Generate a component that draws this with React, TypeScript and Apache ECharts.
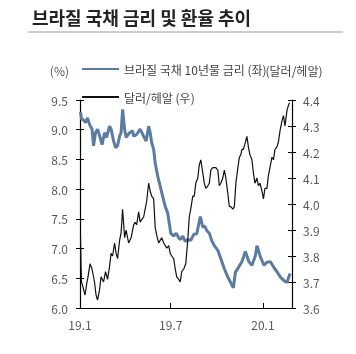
import React, { useEffect, useRef } from "react";
import * as echarts from "echarts";

const TITLE = "브라질 국채 금리 및 환율 추이";
const YIELD_NAME = "브라질 국채 10년물 금리 (좌)";
const FX_NAME = "달러/헤알 (우)";
const LEFT_UNIT = "(%)";
const RIGHT_UNIT = "(달러/헤알)";

const tickDates = ["2019-01-01", "2019-07-01", "2020-01-01"];
const tickLabels = ["19.1", "19.7", "20.1"];

const yieldDates = [
  "2019-01-02", "2019-01-04", "2019-01-07", "2019-01-12", "2019-01-16", "2019-01-20", "2019-01-25", "2019-01-28",
  "2019-02-01", "2019-02-05", "2019-02-10", "2019-02-14", "2019-02-19", "2019-02-23", "2019-03-01", "2019-03-04",
  "2019-03-09", "2019-03-13", "2019-03-17", "2019-03-21", "2019-03-24", "2019-03-27", "2019-03-31", "2019-04-03",
  "2019-04-10", "2019-04-16", "2019-04-18", "2019-04-24", "2019-05-01", "2019-05-08", "2019-05-13", "2019-05-18",
  "2019-05-21", "2019-05-24", "2019-05-28", "2019-05-31", "2019-06-05", "2019-06-10", "2019-06-15", "2019-06-20",
  "2019-06-25", "2019-06-29", "2019-07-01", "2019-07-07", "2019-07-12", "2019-07-17", "2019-07-20", "2019-07-25",
  "2019-07-30", "2019-08-04", "2019-08-10", "2019-08-16", "2019-08-22", "2019-08-29", "2019-09-03", "2019-09-07",
  "2019-09-11", "2019-09-16", "2019-09-21", "2019-09-26", "2019-10-03", "2019-10-09", "2019-10-16", "2019-10-23",
  "2019-10-29", "2019-11-03", "2019-11-07", "2019-11-13", "2019-11-20", "2019-11-27", "2019-12-04", "2019-12-10",
  "2019-12-17", "2019-12-20", "2019-12-27", "2020-01-03", "2020-01-09", "2020-01-16", "2020-01-23", "2020-01-29",
  "2020-02-05", "2020-02-12", "2020-02-18", "2020-02-24",
];
const yieldValues = [
  9.3, 9.18, 9.17, 9.12, 9.2, 9.09, 9.01, 8.73,
  8.95, 9.01, 8.87, 8.75, 8.95, 8.87, 9.06, 9.01,
  8.81, 8.7, 8.73, 8.89, 8.95, 9.34, 9.01, 8.87,
  8.95, 8.98, 8.89, 8.92, 9.01, 8.89, 8.81, 9.06,
  8.95, 8.78, 8.67, 8.44, 8.22, 8.05, 7.88, 7.71,
  7.6, 7.38, 7.26, 7.21, 7.26, 7.18, 7.15, 7.21,
  7.12, 7.15, 7.14, 7.24, 7.25, 7.54, 7.36, 7.38,
  7.3, 7.26, 7.13, 7.05, 6.97, 6.83, 6.66, 6.52,
  6.42, 6.34, 6.6, 6.68, 6.78, 6.95, 6.78, 6.72,
  6.88, 7.05, 6.86, 6.72, 6.77, 6.78, 6.68, 6.61,
  6.52, 6.46, 6.43, 6.58,
];

const fxDates = [
  "2019-01-02", "2019-01-03", "2019-01-04", "2019-01-07", "2019-01-11", "2019-01-15", "2019-01-17", "2019-01-21",
  "2019-01-25", "2019-01-30", "2019-02-02", "2019-02-05", "2019-02-09", "2019-02-12", "2019-02-17", "2019-02-21",
  "2019-02-25", "2019-03-01", "2019-03-04", "2019-03-07", "2019-03-11", "2019-03-14", "2019-03-17", "2019-03-21",
  "2019-03-24", "2019-03-27", "2019-03-31", "2019-04-03", "2019-04-08", "2019-04-13", "2019-04-18", "2019-04-21",
  "2019-04-24", "2019-04-28", "2019-05-01", "2019-05-04", "2019-05-08", "2019-05-11", "2019-05-14", "2019-05-18",
  "2019-05-21", "2019-05-24", "2019-05-28", "2019-05-31", "2019-06-03", "2019-06-07", "2019-06-10", "2019-06-13",
  "2019-06-17", "2019-06-20", "2019-06-23", "2019-06-27", "2019-06-30", "2019-07-03", "2019-07-07", "2019-07-10",
  "2019-07-13", "2019-07-17", "2019-07-20", "2019-07-23", "2019-07-27", "2019-07-31", "2019-08-04", "2019-08-07",
  "2019-08-10", "2019-08-14", "2019-08-17", "2019-08-20", "2019-08-24", "2019-08-27", "2019-08-30", "2019-09-03",
  "2019-09-06", "2019-09-09", "2019-09-13", "2019-09-16", "2019-09-19", "2019-09-23", "2019-09-26", "2019-09-29",
  "2019-10-03", "2019-10-06", "2019-10-09", "2019-10-13", "2019-10-16", "2019-10-19", "2019-10-23", "2019-10-26",
  "2019-10-29", "2019-11-02", "2019-11-05", "2019-11-08", "2019-11-12", "2019-11-15", "2019-11-18", "2019-11-20",
  "2019-11-23", "2019-11-26", "2019-11-30", "2019-12-03", "2019-12-06", "2019-12-10", "2019-12-13", "2019-12-16",
  "2019-12-20", "2019-12-23", "2019-12-26", "2019-12-30", "2020-01-02", "2020-01-05", "2020-01-09", "2020-01-12",
  "2020-01-15", "2020-01-19", "2020-01-22", "2020-01-25", "2020-01-29", "2020-02-01", "2020-02-04", "2020-02-08",
  "2020-02-11", "2020-02-14", "2020-02-18", "2020-02-21", "2020-02-23",
];
const fxValues = [
  3.88, 3.77, 3.7, 3.68, 3.65, 3.7, 3.72, 3.77,
  3.75, 3.7, 3.65, 3.63, 3.67, 3.72, 3.7, 3.74,
  3.71, 3.76, 3.81, 3.8, 3.85, 3.81, 3.79, 3.86,
  3.89, 3.98, 3.87, 3.9, 3.85, 3.87, 3.92, 3.93,
  3.92, 3.97, 3.93, 3.94, 3.95, 3.98, 4.01, 4.08,
  4.05, 4.03, 4.02, 3.91, 3.88, 3.85, 3.86, 3.87,
  3.85, 3.84, 3.83, 3.84, 3.81, 3.8, 3.79, 3.75,
  3.72, 3.71, 3.7, 3.74, 3.75, 3.77, 3.86, 3.95,
  3.98, 4.03, 4.03, 4.08, 4.1, 4.15, 4.17, 4.12,
  4.08, 4.06, 4.07, 4.08, 4.13, 4.14, 4.14, 4.14,
  4.13, 4.07, 4.08, 4.1, 4.13, 4.1, 4.04, 3.99,
  3.99, 3.98, 3.99, 4.08, 4.14, 4.18, 4.19, 4.21,
  4.21, 4.23, 4.26, 4.22, 4.19, 4.17, 4.12, 4.08,
  4.1, 4.07, 4.08, 4.05, 4.02, 4.06, 4.06, 4.11,
  4.14, 4.18, 4.17, 4.21, 4.22, 4.24, 4.28, 4.32,
  4.34, 4.3, 4.36, 4.38, 4.39,
];

const FONT = "'Noto Sans CJK KR', 'Noto Sans', sans-serif";
const LABEL_COLOR = "#595959";

function toTs(s: string): number {
  const [y, m, d] = s.split("-").map(Number);
  return Date.UTC(y, m - 1, d);
}

export default function App() {
  const ref = useRef<HTMLDivElement>(null);
  useEffect(() => {
    if (!ref.current) return;
    const chart = echarts.init(ref.current, null, { renderer: "svg" });
    const tickTs = tickDates.map(toTs);
    const fmtX = (v: number) => {
      const i = tickTs.indexOf(v);
      return i >= 0 ? tickLabels[i] : "";
    };
    const baseY = {
      type: "value" as const,
      splitLine: { show: false },
      axisLine: { show: true, lineStyle: { color: "#000", width: 1.2 } },
    };
    chart.setOption({
      animation: false,
      textStyle: { fontFamily: FONT },
      title: {
        text: TITLE,
        left: 27,
        top: 3,
        textStyle: { fontFamily: FONT, fontSize: 18, fontWeight: "bold", color: "#222" },
      },
      graphic: [
        {
          type: "line",
          shape: { x1: 28, y1: 32, x2: 343, y2: 32 },
          style: { stroke: "#9a9a9a", lineWidth: 1 },
        },
      ],
      legend: {
        orient: "vertical",
        left: 81,
        top: 63,
        itemWidth: 37,
        itemHeight: 14,
        itemGap: 16,
        padding: 0,
        itemStyle: { opacity: 0 },
        textStyle: { fontFamily: FONT, fontSize: 12, color: "#444" },
        data: [YIELD_NAME, FX_NAME],
      },
      grid: { left: 80, right: 64, top: 100, bottom: 46 },
      xAxis: {
        type: "value",
        min: toTs("2019-01-01"),
        max: toTs("2020-02-28"),
        splitLine: { show: false },
        axisLine: { show: true, lineStyle: { color: "#000", width: 1.2 } },
        axisTick: { show: true, inside: true, length: 5, lineStyle: { color: "#000" }, customValues: tickTs },
        axisLabel: {
          customValues: tickTs,
          formatter: fmtX,
          color: LABEL_COLOR,
          fontSize: 12,
          fontFamily: FONT,
          margin: 10,
          showMinLabel: true,
          hideOverlap: false,
        },
      },
      yAxis: [
        {
          ...baseY,
          min: 6,
          max: 9.5,
          interval: 0.5,
          position: "left",
          name: LEFT_UNIT,
          nameLocation: "end",
          nameGap: 30,
          nameTextStyle: { align: "right", verticalAlign: "middle", padding: [0, 11, 0, 0], color: LABEL_COLOR, fontSize: 12, fontFamily: FONT },
          axisTick: { show: true, length: 4, lineStyle: { color: "#000" } },
          axisLabel: { color: LABEL_COLOR, fontSize: 12, fontFamily: FONT, margin: 12, formatter: (v: number) => v.toFixed(1) },
        },
        {
          ...baseY,
          min: 3.6,
          max: 4.4,
          interval: 0.1,
          position: "right",
          name: RIGHT_UNIT,
          nameLocation: "end",
          nameGap: 30,
          nameTextStyle: { align: "center", verticalAlign: "middle", padding: [0, 0, 0, 4], color: "#444", fontSize: 12, fontFamily: FONT },
          axisTick: { show: true, length: 4, lineStyle: { color: "#000" } },
          axisLabel: { color: LABEL_COLOR, fontSize: 12, fontFamily: FONT, margin: 11, formatter: (v: number) => v.toFixed(1) },
        },
        {
          ...baseY,
          min: 6,
          max: 9.5,
          interval: 0.5,
          position: "left",
          axisLine: { show: false },
          axisTick: { show: true, inside: true, length: 4, lineStyle: { color: "#000" } },
          axisLabel: { show: false },
        },
        {
          ...baseY,
          min: 3.6,
          max: 4.4,
          interval: 0.1,
          position: "right",
          axisLine: { show: false },
          axisTick: { show: true, inside: true, length: 4, lineStyle: { color: "#000" } },
          axisLabel: { show: false },
        },
      ],
      series: [
        {
          name: YIELD_NAME,
          type: "line",
          yAxisIndex: 0,
          symbol: "none",
          color: "#5b7ba3",
          lineStyle: { color: "#5b7ba3", width: 3 },
          data: yieldDates.map((d, i) => [toTs(d), yieldValues[i]]),
        },
        {
          name: FX_NAME,
          type: "line",
          yAxisIndex: 1,
          symbol: "none",
          color: "#111",
          lineStyle: { color: "#111", width: 1.2 },
          data: fxDates.map((d, i) => [toTs(d), fxValues[i]]),
        },
      ],
    });
    return () => chart.dispose();
  }, []);
  return <div ref={ref} style={{ position: "fixed", left: 0, top: 0, width: 356, height: 354 }} />;
}
